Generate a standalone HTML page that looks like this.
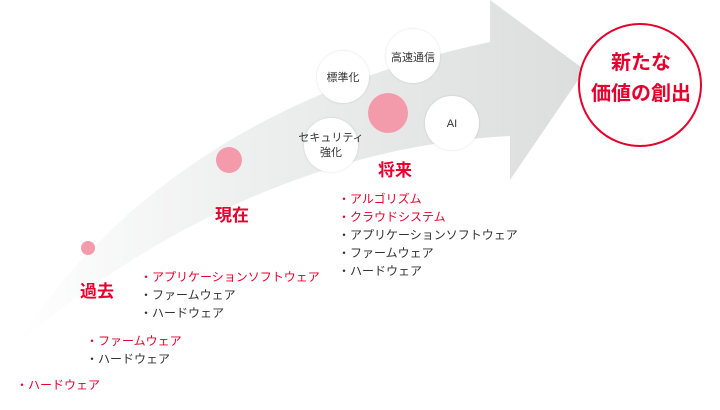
<!DOCTYPE html>
<html><head><meta charset="utf-8"><style>
body{margin:0;width:720px;height:410px;background:#fff;overflow:hidden;font-family:"Liberation Sans","Noto Sans CJK JP",sans-serif}
svg{position:absolute;left:0;top:0}
.t{position:absolute;font-size:12px;line-height:18px;color:#333;white-space:nowrap}
.r{color:#e6002d}
.h{position:absolute;font-size:17px;font-weight:bold;color:#e6002d}
</style></head><body>
<svg width="720" height="410">
<defs><linearGradient id="g" x1="0" y1="0" x2="1" y2="0">
<stop offset="0" stop-color="#fff"/><stop offset="0.4" stop-color="#eeefef"/><stop offset="1" stop-color="#dcdddd"/></linearGradient>
<filter id="s"><feDropShadow dx="0" dy="0" stdDeviation="1" flood-color="#000" flood-opacity="0.15"/></filter></defs>
<path d="M15,345 Q170,110 490,42 L490,0 L585,70 L510,180 L510,136 Q250,150 15,345 Z" fill="url(#g)"/>
<circle cx="88" cy="248" r="7" fill="#f39aab"/>
<circle cx="229" cy="160" r="13" fill="#f39aab"/>
<circle cx="388" cy="113" r="20" fill="#f39aab"/>
<g fill="#fff" filter="url(#s)">
<circle cx="343" cy="77" r="26"/><circle cx="413" cy="56" r="27"/>
<circle cx="331" cy="145" r="27"/><circle cx="452" cy="123" r="27"/></g>
<g font-size="11" fill="#333" text-anchor="middle">
<text x="343" y="81">標準化</text><text x="413" y="61">高速通信</text>
<text x="331" y="141">セキュリティ</text><text x="331" y="156">強化</text>
<text x="452" y="127">AI</text></g>
<circle cx="640" cy="85" r="61" fill="#fff" stroke="#e6002d" stroke-width="2"/>
<g font-size="20" font-weight="bold" fill="#e6002d" text-anchor="middle">
<text x="641" y="69">新たな</text><text x="641" y="100">価値の創出</text></g>
</svg>
<div class="h" style="left:378px;top:156px">将来</div>
<div class="h" style="left:215px;top:201px">現在</div>
<div class="h" style="left:80px;top:277px">過去</div>
<div class="t" style="left:338px;top:190px"><span class="r">・アルゴリズム<br>・クラウドシステム</span><br>・アプリケーションソフトウェア<br>・ファームウェア<br>・ハードウェア</div>
<div class="t" style="left:140px;top:268px"><span class="r">・アプリケーションソフトウェア</span><br>・ファームウェア<br>・ハードウェア</div>
<div class="t" style="left:86px;top:332px"><span class="r">・ファームウェア</span><br>・ハードウェア</div>
<div class="t r" style="left:16px;top:376px">・ハードウェア</div>
</body></html>
